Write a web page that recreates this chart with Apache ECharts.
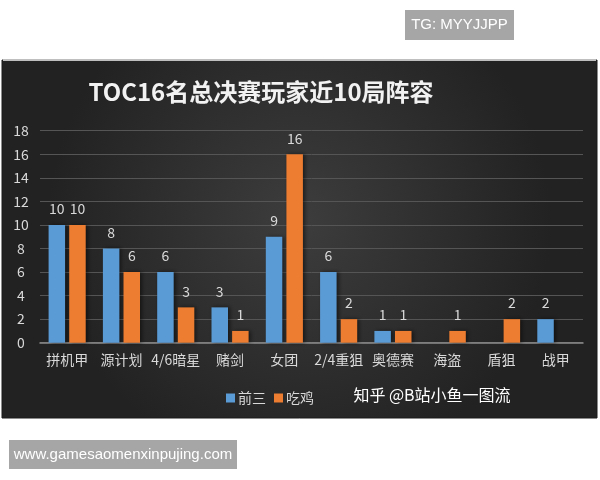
<!DOCTYPE html>
<html><head><meta charset="utf-8">
<script src="https://cdn.jsdelivr.net/npm/echarts@6/dist/echarts.min.js"></script>
<style>html,body{margin:0;padding:0;background:#fff}#c{width:600px;height:480px}</style>
</head><body><div id="c"></div>
<script>
const categories = ['拼机甲','源计划','4/6暗星','赌剑','女团','2/4重狙','奥德赛','海盗','盾狙','战甲'];
const top3 = [10, 8, 6, 3, 9, 6, 1, null, null, 2];
const chicken = [10, 6, 3, 1, 16, 2, 1, 1, 2, null];
const seriesNames = ['前三', '吃鸡'];
const titleText = 'TOC16名总决赛玩家近10局阵容';

const FONT = '"Noto Sans CJK SC", "Noto Sans", sans-serif';
const chart = echarts.init(document.getElementById('c'), null, {renderer: 'canvas'});
const lbl = {show: true, position: 'top', distance: 9, color: '#d9d9d9', fontSize: 14, fontFamily: FONT};
chart.setOption({
  backgroundColor: '#ffffff',
  animation: false,
  graphic: [
    {type: 'rect', z: -10, shape: {x: 2, y: 60, width: 595, height: 358},
     style: {fill: new echarts.graphic.RadialGradient(0.5, 0.45, 0.7, [
       {offset: 0, color: '#3d3d3d'}, {offset: 1, color: '#222222'}]), stroke: '#1a1a1a', lineWidth: 1}},
    {type: 'line', z: -9, shape: {x1: 3, y1: 60, x2: 596, y2: 60}, style: {stroke: '#bfbfbf', lineWidth: 2}},
    {type: 'text', z: 5, x: 261, y: 92, style: {text: titleText, fill: '#f2f2f2', font: 'bold 24px ' + FONT, textAlign: 'center', textVerticalAlign: 'middle'}},
    {type: 'text', z: 5, x: 432, y: 395, style: {text: '知乎 @B站小鱼一图流', fill: '#ffffff', font: '16px ' + FONT, textAlign: 'center', textVerticalAlign: 'middle'}},
    {type: 'rect', z: 5, shape: {x: 405, y: 10, width: 109, height: 30}, style: {fill: '#a6a6a6'}},
    {type: 'text', z: 6, x: 459.5, y: 25, style: {text: 'TG: MYYJJPP', fill: '#ffffff', font: '15px "Liberation Sans", Arial, sans-serif', textAlign: 'center', textVerticalAlign: 'middle'}},
    {type: 'rect', z: 5, shape: {x: 9, y: 440, width: 228, height: 29}, style: {fill: '#a6a6a6'}},
    {type: 'text', z: 6, x: 123, y: 455, style: {text: 'www.gamesaomenxinpujing.com', fill: '#ffffff', font: '15px "Liberation Sans", Arial, sans-serif', textAlign: 'center', textVerticalAlign: 'middle'}}
  ],
  legend: {
    data: seriesNames, left: 221, top: 386, itemWidth: 9, itemHeight: 9, itemGap: 8,
    icon: 'rect', textStyle: {color: '#d9d9d9', fontSize: 14, fontFamily: FONT, padding: [0, 0, 0, -2]}
  },
  grid: {left: 40, right: 17, top: 130.7, bottom: 137.3},
  xAxis: {
    type: 'category', data: categories,
    axisLine: {lineStyle: {color: '#8c8c8c', width: 1.5}},
    axisTick: {show: false},
    axisLabel: {color: '#d9d9d9', fontSize: 14, fontFamily: FONT, margin: 10, interval: 0}
  },
  yAxis: {
    type: 'value', min: 0, max: 18, interval: 2,
    axisLine: {show: false}, axisTick: {show: false},
    axisLabel: {color: '#d9d9d9', fontSize: 14, fontFamily: FONT, margin: 19, align: 'center'},
    splitLine: {lineStyle: {color: '#555555', width: 1}}
  },
  series: [
    {name: seriesNames[0], type: 'bar', data: top3, barWidth: 16.5, barGap: '25%',
     itemStyle: {color: '#5b9bd5', shadowColor: 'rgba(0,0,0,0.5)', shadowBlur: 4, shadowOffsetX: 2}, label: lbl},
    {name: seriesNames[1], type: 'bar', data: chicken, barWidth: 16.5,
     itemStyle: {color: '#ed7d31', shadowColor: 'rgba(0,0,0,0.5)', shadowBlur: 4, shadowOffsetX: 2}, label: lbl}
  ]
});
</script></body></html>
